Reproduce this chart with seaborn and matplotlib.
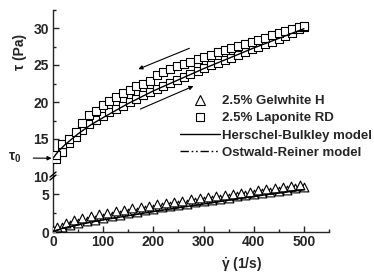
import numpy as np
import pandas as pd
import seaborn as sns
import matplotlib.pyplot as plt
from matplotlib.lines import Line2D
from matplotlib.ticker import MultipleLocator

sns.set_style("ticks")
plt.rcParams["font.family"] = ["Liberation Sans", "DejaVu Sans"]
plt.rcParams["font.weight"] = "bold"
plt.rcParams["mathtext.fontset"] = "custom"
plt.rcParams["mathtext.rm"] = "Liberation Sans:bold"
plt.rcParams["mathtext.it"] = "Liberation Sans:bold"
plt.rcParams["mathtext.bf"] = "Liberation Sans:bold"

# shear rate (1/s) of the measurement points
lap_rate = [5, 18, 32, 45, 58, 72, 85, 99, 112, 126, 139, 153, 166, 180, 193,
            207, 220, 234, 247, 261, 274, 288, 301, 315, 328, 342, 355, 369,
            382, 396, 409, 423, 436, 450, 463, 477, 490, 500]
# Laponite RD, increasing sweep (lower branch)
lap_up = [12.3, 13.2, 14.5, 15.3, 16.2, 17.0, 17.6, 18.1, 18.6, 19.1, 19.5,
          20.0, 20.4, 20.9, 21.4, 21.8, 22.2, 22.6, 23.0, 23.4, 23.8, 24.2,
          24.6, 25.0, 25.3, 25.7, 26.0, 26.4, 26.7, 27.1, 27.4, 27.8, 28.1,
          28.5, 28.9, 29.3, 29.8, 30.2]
# Laponite RD, decreasing sweep (upper branch)
lap_down = [12.8, 14.3, 15.0, 16.0, 17.2, 18.2, 18.8, 19.6, 20.2, 20.7, 21.2,
            21.6, 22.1, 22.5, 22.9, 23.6, 24.0, 24.4, 24.8, 25.1, 25.4, 25.8,
            26.1, 26.4, 26.7, 27.0, 27.3, 27.6, 27.9, 28.1, 28.4, 28.7, 29.0,
            29.3, 29.6, 29.9, 30.1, 30.3]

gel_rate_up = [0, 17, 33, 50, 67, 83, 100, 117, 133, 150, 167, 183, 200, 217,
               233, 250, 267, 283, 300, 317, 333, 350, 367, 383, 400, 417, 433,
               450, 467, 483, 500]
gel_up = [0.2, 0.6, 0.9, 1.2, 1.4, 1.65, 1.9, 2.1, 2.3, 2.5, 2.7, 2.9, 3.05,
          3.25, 3.4, 3.6, 3.75, 3.9, 4.1, 4.25, 4.4, 4.55, 4.7, 4.85, 5.0, 5.15,
          5.3, 5.45, 5.6, 5.75, 5.9]
gel_rate_down = [8, 25, 42, 58, 75, 92, 108, 125, 142, 158, 175, 192, 208, 225,
                 242, 258, 275, 292, 308, 325, 342, 358, 375, 392, 408, 425, 442,
                 458, 475, 492]
gel_down = [0.7, 1.2, 1.6, 1.9, 2.1, 2.35, 2.55, 2.75, 2.95, 3.15, 3.3, 3.5,
            3.65, 3.85, 4.0, 4.15, 4.3, 4.45, 4.6, 4.75, 4.9, 5.05, 5.2, 5.35,
            5.5, 5.65, 5.8, 5.95, 6.1, 6.25]

# model curves
model_rate = [0, 10, 25, 50, 75, 100, 150, 200, 250, 300, 350, 400, 450, 500]
lap_hb = [12.4, 13.3, 14.3, 15.7, 16.9, 17.9, 19.8, 21.5, 23.0, 24.5, 25.9,
          27.3, 28.6, 29.9]
gel_hb = [0.1, 0.3, 0.6, 0.95, 1.3, 1.6, 2.15, 2.7, 3.2, 3.7, 4.2, 4.7, 5.15, 5.6]
gel_or = [0.0, 0.25, 0.55, 0.95, 1.3, 1.6, 2.15, 2.7, 3.2, 3.7, 4.2, 4.7, 5.15, 5.6]

W, H = 374, 274
fig = plt.figure(figsize=(W / 100, H / 100), dpi=100)
ax_up = fig.add_axes([53 / W, 1 - 176 / H, 276 / W, 166.5 / H])
ax_lo = fig.add_axes([53 / W, 1 - 232 / H, 276 / W, 56 / H])

dashdot2 = (0, (6, 2, 1.2, 2, 1.2, 2))
mk = dict(facecolor="white", edgecolor="black", linewidth=0.8, legend=False,
          zorder=3)
line = dict(color="black", linewidth=1.0, sort=False, legend=False, zorder=4)

for ax in (ax_up, ax_lo):
    sns.scatterplot(x=lap_rate, y=lap_up, marker="s", s=28, ax=ax, **mk)
    sns.scatterplot(x=lap_rate, y=lap_down, marker="s", s=28, ax=ax, **mk)
    sns.scatterplot(x=gel_rate_up, y=gel_up, marker="^", s=40, ax=ax, **mk)
    sns.scatterplot(x=gel_rate_down, y=gel_down, marker="^", s=40, ax=ax, **mk)
    sns.lineplot(x=model_rate, y=lap_hb, ax=ax, **line)
    sns.lineplot(x=model_rate, y=gel_hb, ax=ax, **line)
    sns.lineplot(x=model_rate, y=gel_or, ax=ax, linestyle=dashdot2, **line)
    ax.set_xlim(0, 550)
    for s in ("top", "right"):
        ax.spines[s].set_visible(False)
    ax.spines["left"].set_linewidth(1)
    ax.spines["bottom"].set_linewidth(1)
    ax.tick_params(direction="in", length=4, width=1, labelsize=10, pad=3)
    ax.tick_params(which="minor", direction="in", length=2, width=1)
    ax.yaxis.set_major_locator(MultipleLocator(5))
    ax.yaxis.set_minor_locator(MultipleLocator(2.5))
    ax.set_xlabel("")
    ax.set_ylabel("")

ax_up.set_ylim(10, 32.5)
ax_up.spines["bottom"].set_visible(False)
ax_up.tick_params(axis="x", which="both", bottom=False, labelbottom=False)
ax_up.patch.set_alpha(0)

ax_lo.set_ylim(0, 7.4)
ax_lo.xaxis.set_major_locator(MultipleLocator(100))
ax_lo.xaxis.set_minor_locator(MultipleLocator(50))
ax_lo.tick_params(axis="x", pad=2)

for lab in ax_up.get_yticklabels() + ax_lo.get_yticklabels() + ax_lo.get_xticklabels():
    lab.set_fontweight("bold")

# axis break marks
for dy in (-1.5, 1.5):
    y0 = 1 - (176 + dy) / H
    fig.add_artist(Line2D([50 / W, 56 / W], [y0 - 2.5 / H, y0 + 2.5 / H],
                          color="black", linewidth=1))

# sweep direction arrows
ax_up.annotate("", xy=(165, 24.3), xytext=(277, 27.4),
               arrowprops=dict(arrowstyle="-|>", color="black", lw=0.8,
                               mutation_scale=6))
ax_up.annotate("", xy=(285, 22.3), xytext=(169, 18.9),
               arrowprops=dict(arrowstyle="-|>", color="black", lw=0.8,
                               mutation_scale=6))

# yield stress marker
ax_up.annotate(r"$\tau_0$", xy=(0, 12.4), xycoords="data",
               xytext=(15 / W, 1 - 158 / H), textcoords="figure fraction",
               ha="center", va="center", fontsize=10, annotation_clip=False,
               arrowprops=dict(arrowstyle="-|>", color="black", lw=0.8,
                               mutation_scale=6, shrinkA=6, shrinkB=1))

fig.text(20 / W, 1 - 52 / H, "\u03c4 (Pa)", rotation=90, ha="center",
         va="center", fontsize=10, fontweight="bold")
fig.text(242 / W, 1 - 265 / H, r"$\dot{\gamma}$ (1/s)", ha="center",
         va="center", fontsize=10, fontweight="bold")

handles = [
    Line2D([], [], marker="^", linestyle="none", markersize=6.5,
           markerfacecolor="white", markeredgecolor="black", markeredgewidth=0.8),
    Line2D([], [], marker="s", linestyle="none", markersize=5.5,
           markerfacecolor="white", markeredgecolor="black", markeredgewidth=0.8),
    Line2D([], [], color="black", linewidth=1.0),
    Line2D([], [], color="black", linewidth=1.0, linestyle=dashdot2),
]
labels = ["2.5% Gelwhite H", "2.5% Laponite RD", "Herschel-Bulkley model",
          "Ostwald-Reiner model"]
fig.legend(handles, labels, loc="upper left", bbox_to_anchor=(180 / W, 1 - 95 / H),
           frameon=False, borderpad=0, borderaxespad=0, handlelength=3.0,
           handletextpad=0.15, labelspacing=0.38,
           prop=dict(size=9.5, weight="bold"))

fig.savefig("out.png", dpi=100)
